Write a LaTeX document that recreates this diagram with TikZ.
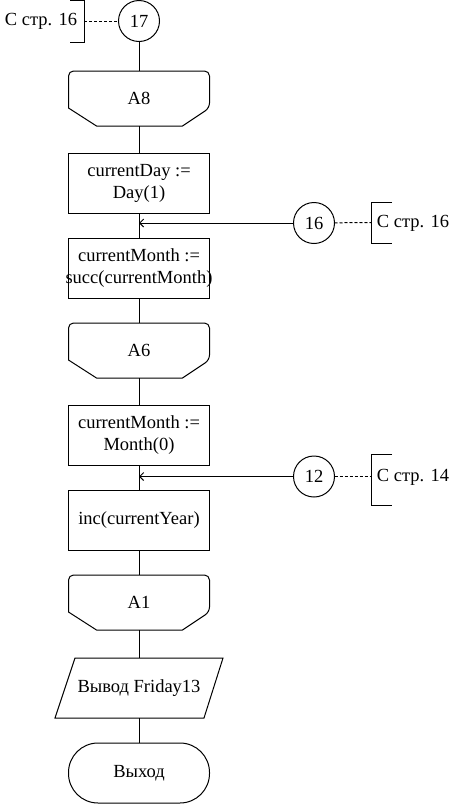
\documentclass[tikz,border=0pt]{standalone}
\usepackage{fontspec}
\setmainfont{Liberation Serif}
\usetikzlibrary{positioning,arrows.meta}

\tikzset{
  proc/.style={draw, minimum width=141pt, minimum height=60pt, align=center, inner sep=2pt},
  loopend/.style={minimum width=141pt, minimum height=55pt, inner sep=0pt},
  conn/.style={draw, circle, minimum size=41pt, inner sep=0pt},
  inout/.style={minimum width=168pt, minimum height=60pt, inner sep=0pt},
  term/.style={draw, rounded corners=29.5pt, minimum width=141pt, minimum height=60pt},
  brk/.style={minimum width=14pt, minimum height=42pt, inner sep=0pt},
  link/.style={dash pattern=on 3pt off 2pt}
}
\newcommand{\loopshape}[1]{%
  \draw[rounded corners=5pt] ([yshift=18pt]#1.south west) |- (#1.north east)
    -- ([yshift=18pt]#1.south east) [sharp corners] -- ([xshift=-27pt]#1.south east)
    -- ([xshift=28pt]#1.south west) -- cycle;}

\begin{document}
\begin{tikzpicture}[x=1pt,y=-1pt,line width=1pt,node distance=25pt,outer sep=0pt,
  font=\fontsize{18.5}{22}\selectfont,>={Straight Barb[length=4pt,width=8pt]}]
 % \draw[help lines] (0,0) grid (456,804);
  \useasboundingbox (0,0) rectangle (456,804);
  \node[conn] (c17) at (139,21) {17};
  \node[loopend] (A8) [below=29.5pt of c17] {A8};
  \node[proc] (box1) [below=27pt of A8] {currentDay :=\\Day(1)};
  \node[proc] (box2) [below=of box1] {currentMonth :=\\\makebox[0pt]{succ(currentMonth)}};
  \node[loopend] (A6) [below=of box2] {A6};
  \node[proc] (box3) [below=27pt of A6] {currentMonth :=\\Month(0)};
  \node[proc] (box4) [below=of box3] {inc(currentYear)};
  \node[loopend] (A1) [below=of box4] {A1};
  \node[inout] (out) [below=28pt of A1] {Вывод Friday13};
  \node[term] (exit) [below=of out] {Выход};
  \loopshape{A8}
  \loopshape{A6}
  \loopshape{A1}
  \draw ([xshift=20pt]out.north west) -- (out.north east)
    -- ([xshift=-19pt]out.south east) -- (out.south west) -- cycle;

  % connectors from other pages
  \node[brk] (b17) at (77,21) {};
  \node (t17) at (41,21) {С стр. 16};
  \node[conn] (c16) at (314,223) {16};
  \node[brk, minimum width=21pt, minimum height=41pt] (b16) at (381.5,222.5) {};
  \node (t16) at (413,223) {С стр. 16};
  \node[conn] (c12) at (314,476.5) {12};
  \node[brk, minimum width=21pt, minimum height=51pt] (b12) at (381.5,479.5) {};
  \node (t12) at (413,477) {С стр. 14};
  \draw (b17.north west) -| (b17.south east) -- (b17.south west);
  \draw (b16.north east) -| (b16.south west) -- (b16.south east);
  \draw (b12.north east) -| (b12.south west) -- (b12.south east);
  \coordinate (j16) at (box1.south |- c16);
  \coordinate (j12) at (box3.south |- c12);

  \path (c17) edge (A8)
        (A8) edge (box1)
        (box1) edge (box2)
        (box2) edge (A6)
        (A6) edge (box3)
        (box3) edge (box4)
        (box4) edge (A1)
        (A1) edge (out)
        (out) edge (exit);
  \path[->] (c16) edge (j16)
            (c12) edge (j12);
  \path[link] (b17.east) edge (c17)
              (c16) edge (b16.west)
              (c12) edge (b12.west |- c12);
 \end{tikzpicture}
\end{document}
